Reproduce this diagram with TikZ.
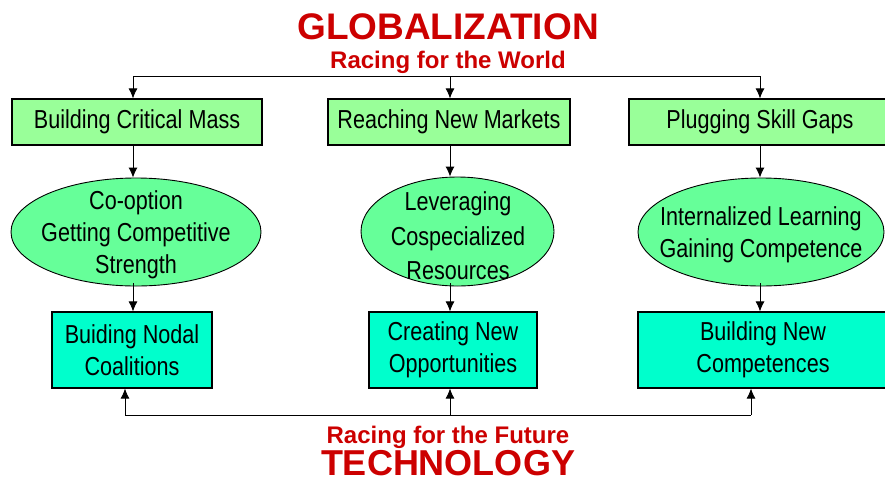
\documentclass[tikz,border=0pt]{standalone}
\usepackage{fontspec}
\setmainfont{Liberation Sans}
\newfontfamily\narrowfont{Liberation Sans}[FakeStretch=0.83]
\usetikzlibrary{arrows.meta,shapes.geometric}

\definecolor{titlered}{HTML}{CC0000}
\definecolor{stepgreen}{HTML}{99FF99}
\definecolor{ovalgreen}{HTML}{66FF99}
\definecolor{goalcyan}{HTML}{00FFCC}

\begin{document}
\begin{tikzpicture}[x=1pt,y=-1pt,
  headline/.style={text=titlered,font=\fontsize{36}{40}\selectfont\bfseries,inner sep=0,anchor=base},
  subline/.style={text=titlered,font=\fontsize{24}{28}\selectfont\bfseries,inner sep=0,anchor=base},
  stepbox/.style={draw=black,line width=1.1pt,fill=stepgreen,minimum height=46pt,inner sep=0,
    font=\narrowfont\fontsize{26}{31}\selectfont},
  goalbox/.style={draw=black,line width=1.1pt,fill=goalcyan,minimum height=76pt,inner sep=0,align=center,
    font=\narrowfont\fontsize{26}{32}\selectfont},
  oval/.style={ellipse,draw=black,line width=0.9pt,fill=ovalgreen,inner sep=0},
  ovaltext/.style={align=center,inner sep=0,font=\narrowfont\fontsize{26}{32}\selectfont},
  arr/.style={draw=black,line width=0.9pt,-{Latex[length=10pt,width=9pt]}},
  link/.style={draw=black,line width=0.9pt}
]
\useasboundingbox (0,0) rectangle (885,482);

% headings
\node[headline,font=\fontsize{37}{40}\selectfont\bfseries] (glob) at (448,39) {GLOBALIZATION};
\node[subline] (world) at (448,68) {Racing for the World};
\node[subline] (future) at (448,443) {Racing for the Future};
\node[headline] (tech) at (448,475) {TECHNOLOGY};

% upper row of boxes
\node[stepbox,minimum width=250pt] (b1) at (137,122) {Building Critical Mass};
\node[stepbox,minimum width=242pt] (b2) at (449,122) {Reaching New Markets};
\node[stepbox,minimum width=262pt] (b3) at (760,122) {Plugging Skill Gaps};

% ovals
\node[oval,minimum width=250pt,minimum height=108pt] (e1) at (136,232) {};
\node[oval,minimum width=193pt,minimum height=109pt] (e2) at (457.5,231.5) {};
\node[oval,minimum width=246pt,minimum height=108pt] (e3) at (761,232) {};
\node[ovaltext] (e1t) at (136,235) {Co-option\\Getting Competitive\\Strength};
\node[ovaltext,font=\narrowfont\fontsize{26}{34.5}\selectfont] (e2t) at (458,236) {Leveraging\\Cospecialized\\Resources};
\node[ovaltext] (e3t) at (761,235) {Internalized Learning\\Gaining Competence};

% lower row of boxes
\node[goalbox,minimum width=160pt] (b4) at (132,350) {Buiding Nodal\\Coalitions};
\node[goalbox,minimum width=168pt] (b5) at (453,350) {Creating New\\Opportunities};
\node[goalbox,minimum width=250pt] (b6) at (763,350) {Building New\\Competences};

% branch points
\coordinate (t1) at (133,76);
\coordinate (t2) at (450,76);
\coordinate (t3) at (760,76);
\coordinate (u1) at (125,415);
\coordinate (u2) at (450,415);
\coordinate (u3) at (751,415);

% top distribution
\draw[link] (t1) -- (t3);
\draw[arr] (t1) -- (t1 |- b1.north);
\draw[arr] (t2) -- (t2 |- b2.north);
\draw[arr] (t3) -- (t3 |- b3.north);

% boxes to ovals
\draw[arr] (t1 |- b1.south) -- (t1 |- e1.north);
\draw[arr] (t2 |- b2.south) -- (t2 |- e2.north);
\draw[arr] (t3 |- b3.south) -- (t3 |- e3.north);

% ovals to lower boxes
\draw[arr] ([yshift=3pt]t1 |- e1.south) -- (t1 |- b4.north);
\draw[arr] ([yshift=3pt]t2 |- e2.south) -- (t2 |- b5.north);
\draw[arr] ([yshift=3pt]t3 |- e3.south) -- (t3 |- b6.north);

% bottom collection
\draw[link] (u1) -- (u3);
\draw[arr] (u1) -- (u1 |- b4.south);
\draw[arr] (u2) -- (u2 |- b5.south);
\draw[arr] (u3) -- (u3 |- b6.south);
\end{tikzpicture}
\end{document}
